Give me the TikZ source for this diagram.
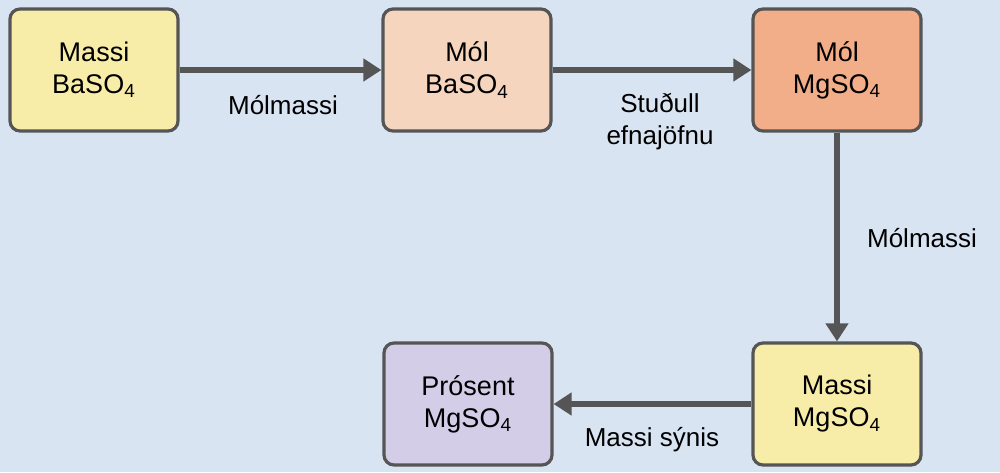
\documentclass[tikz,border=0pt]{standalone}
\usepackage{fontspec}
\setmainfont{Liberation Sans}
\usetikzlibrary{arrows.meta}
\definecolor{bg}{HTML}{D9E4F3}
\definecolor{edgegray}{HTML}{555555}
\definecolor{yel}{HTML}{F8EDA8}
\definecolor{peach}{HTML}{F5D5BE}
\definecolor{orng}{HTML}{F2AE88}
\definecolor{lila}{HTML}{D3CDE8}
\tikzstyle{box}=[rectangle,rounded corners=5pt,draw=edgegray,line width=1.6pt,minimum width=84pt,minimum height=61pt,align=center,font=\fontsize{13.5}{16}\selectfont]
\tikzstyle{flow}=[draw=edgegray,line width=3pt,-{Triangle[length=9pt,width=11pt]}]
\tikzstyle{lbl}=[align=center,font=\fontsize{13}{16}\selectfont]

\begin{document}
\begin{tikzpicture}[x=0.5pt,y=-0.5pt]
		\fill[bg] (0,0) rectangle (1000,472);
		\node [box,fill=yel]   (massBa) at (94,70)   {Massi\\BaSO\textsubscript{4}};
		\node [box,fill=peach] (molBa)  at (467,70)  {Mól\\BaSO\textsubscript{4}};
		\node [box,fill=orng]  (molMg)  at (837,70)  {Mól\\MgSO\textsubscript{4}};
		\node [box,fill=yel]   (massMg) at (837,404) {Massi\\MgSO\textsubscript{4}};
		\node [box,fill=lila]  (pctMg)  at (468,404) {Prósent\\MgSO\textsubscript{4}};
		\node [lbl] (l1) at (283,105) {Mólmassi};
		\node [lbl] (l2) at (660,122) {Stuðull\\efnajöfnu};
		\node [lbl] (l3) at (922,238) {Mólmassi};
		\node [lbl] (l4) at (652,440) {Massi sýnis};

		\draw [flow] (massBa) -- (molBa);
		\draw [flow] (molBa)  -- (molMg);
		\draw [flow] (molMg)  -- (massMg);
		\draw [flow] (massMg) -- (pctMg);
	\end{tikzpicture}
\end{document}
